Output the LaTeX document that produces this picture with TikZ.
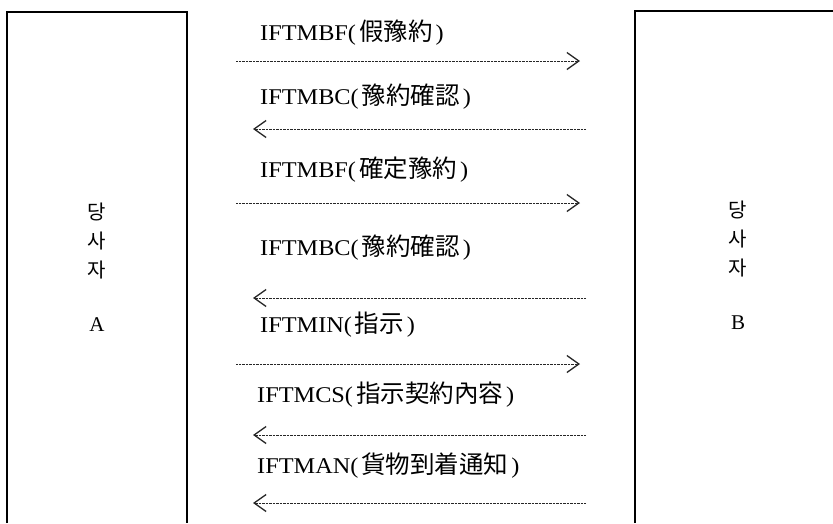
\documentclass[tikz,border=0pt]{standalone}
\usepackage{fontspec}
\setmainfont{Liberation Serif}
\newfontfamily\cjk{Noto Sans CJK KR}
\newfontfamily\latwide[FakeStretch=1.08]{Liberation Serif}
\usetikzlibrary{arrows.meta}
\tikzset{
  boxline/.style={line width=1.1pt, black},
  msg/.style={anchor=west, inner sep=0pt, font=\latwide\fontsize{22.5}{26}\selectfont},
  party/.style={inner sep=0pt, font=\cjk\fontsize{20}{22}\selectfont},
  partyletter/.style={inner sep=0pt, font=\fontsize{21}{24}\selectfont},
  flow/.style={line width=0.8pt, black!85, dash pattern=on 1pt off 0.4pt,
    -{Straight Barb[length=12pt, width=17pt, line width=1.3pt]}},
}
\newcommand{\msgtext}[2]{#1(\hspace{3pt}{\cjk\fontsize{24.5}{27}\selectfont #2}\hspace{3pt})}
\begin{document}
\begin{tikzpicture}[x=1pt,y=-1pt]
\useasboundingbox (0,0) rectangle (833,523);
% party boxes (open at bottom / right)
\coordinate (aBL) at (7,523); \coordinate (aTL) at (7,12);
\coordinate (aTR) at (187,12); \coordinate (aBR) at (187,523);
\draw[boxline] (aBL) -- (aTL) -- (aTR) -- (aBR);
\coordinate (bBL) at (635,523); \coordinate (bTL) at (635,11);
\coordinate (bTR) at (833,11);
\draw[boxline] (bBL) -- (bTL) -- (bTR);
% party labels
\node[party] (a1) at (97,212) {당};
\node[party] (a2) at (97,241) {사};
\node[party] (a3) at (97,270) {자};
\node[partyletter] (a4) at (97,325) {A};
\node[party] (b1) at (738,210) {당};
\node[party] (b2) at (738,239) {사};
\node[party] (b3) at (738,268) {자};
\node[partyletter] (b4) at (738,323) {B};
% messages
\node[msg] (m1) at (260,33) {\msgtext{IFTMBF}{假豫約}};
\node[msg] (m2) at (260,97) {\msgtext{IFTMBC}{豫約確認}};
\node[msg] (m3) at (260,170) {\msgtext{IFTMBF}{確定豫約}};
\node[msg] (m4) at (260,248) {\msgtext{IFTMBC}{豫約確認}};
\node[msg] (m5) at (260,325) {\msgtext{IFTMIN}{指示}};
\node[msg] (m6) at (257,395) {\msgtext{IFTMCS}{指示契約內容}};
\node[msg] (m7) at (257,466) {\msgtext{IFTMAN}{貨物到着通知}};
% arrow end points
\coordinate (l1) at (236,61);  \coordinate (r1) at (580,61);
\coordinate (l2) at (253,129); \coordinate (r2) at (586,129);
\coordinate (l3) at (236,203); \coordinate (r3) at (580,203);
\coordinate (l4) at (253,298); \coordinate (r4) at (586,298);
\coordinate (l5) at (236,364); \coordinate (r5) at (580,364);
\coordinate (l6) at (253,435); \coordinate (r6) at (586,435);
\coordinate (l7) at (253,503); \coordinate (r7) at (586,503);
\draw[flow] (l1) -- (r1);
\draw[flow] (r2) -- (l2);
\draw[flow] (l3) -- (r3);
\draw[flow] (r4) -- (l4);
\draw[flow] (l5) -- (r5);
\draw[flow] (r6) -- (l6);
\draw[flow] (r7) -- (l7);
\end{tikzpicture}
\end{document}
